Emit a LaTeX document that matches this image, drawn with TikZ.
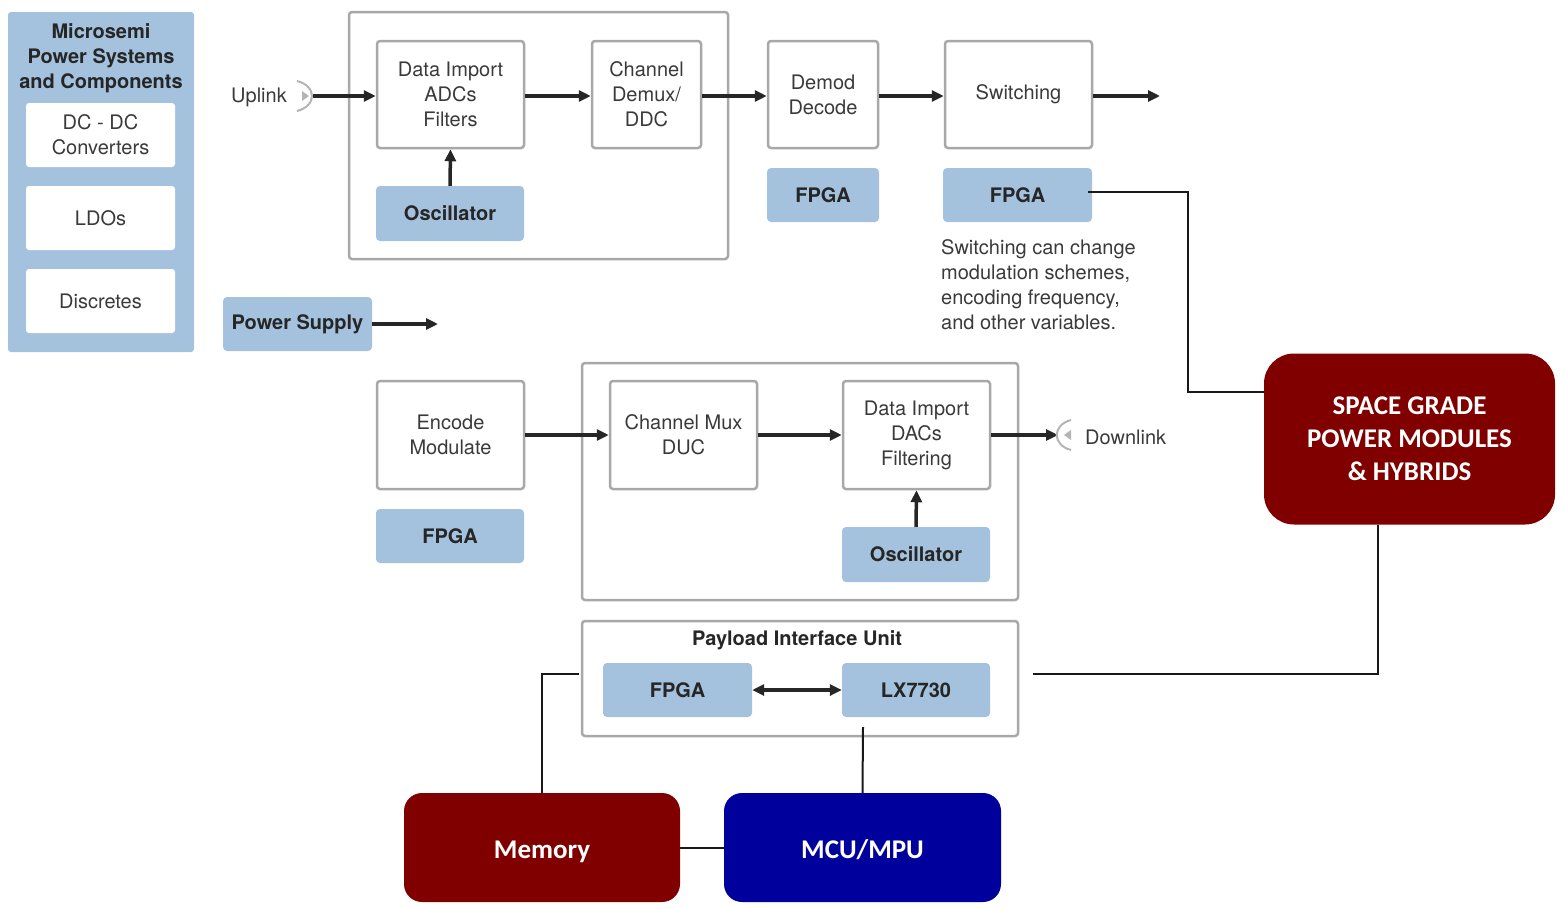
\documentclass[tikz,border=0pt]{standalone}
\usepackage{fontspec}
\setmainfont{TeX Gyre Heros}
\newfontfamily\calib{Carlito}
\usetikzlibrary{arrows.meta,calc}
\definecolor{lblue}{HTML}{A4C2DE}
\definecolor{gborder}{HTML}{A8A8A8}
\definecolor{txtgray}{HTML}{3A3A3A}
\definecolor{dred}{HTML}{800000}
\definecolor{dblue}{HTML}{00009C}
\definecolor{antgray}{HTML}{B4B4B4}
\tikzset{
  base/.style={inner sep=0pt, align=center, font=\fontsize{20}{25}\selectfont},
  wbox/.style={base, draw=gborder, line width=2.5pt, rounded corners=3pt, fill=white, text=txtgray},
  bbox/.style={base, fill=lblue, rounded corners=4pt, text=black!85, font=\fontsize{20}{25}\selectfont\bfseries},
  grp/.style={draw=gborder, line width=2.5pt, rounded corners=3pt, inner sep=0pt},
  bigbox/.style={inner sep=0pt, align=center, text=white, font=\fontsize{27}{33}\selectfont\calib\bfseries},
  tip/.tip={Triangle[length=12pt,width=11pt]},
  flow/.style={line width=3.5pt, draw=black!85, -tip},
  conn/.style={line width=2pt, draw=black!90},
  lbl/.style={inner sep=0pt, text=txtgray, font=\fontsize{20}{25}\selectfont}
}
\begin{document}
\begin{tikzpicture}[x=1pt,y=-1pt]
\useasboundingbox (0,0) rectangle (1563,908);
% left panel
\node[fill=lblue, rounded corners=3pt, minimum width=186pt, minimum height=340pt, inner sep=0pt] (panel) at (101,182) {};
\node[base, text=black!85, font=\fontsize{20}{25}\selectfont\bfseries] (ptitle) at (101,58) {Microsemi\\Power Systems\\and Components};
\node[wbox, draw=none, minimum width=149pt, minimum height=64pt] (dcdc) at (100.5,135) {DC - DC\\Converters};
\node[wbox, draw=none, minimum width=149pt, minimum height=64pt] (ldos) at (100.5,218) {LDOs};
\node[wbox, draw=none, minimum width=149pt, minimum height=64pt] (disc) at (100.5,301) {Discretes};
% top group
\node[grp, minimum width=379pt, minimum height=247pt] (topgrp) at (538.5,135.5) {};
\node[wbox, minimum width=147pt, minimum height=107pt] (dia) at (450.5,94.5) {Data Import\\ADCs\\Filters};
\node[wbox, minimum width=109pt, minimum height=107pt] (demux) at (646.5,94.5) {Channel\\Demux/\\DDC};
\node[bbox, minimum width=148pt, minimum height=55pt] (osc1) at (450,213.5) {Oscillator};
\node[wbox, minimum width=110pt, minimum height=107pt] (demod) at (823,94.5) {Demod\\Decode};
\node[bbox, minimum width=112pt, minimum height=54pt] (fpga1) at (823,195) {FPGA};
\node[wbox, minimum width=147pt, minimum height=107pt] (sw) at (1018.5,94.5) {Switching};
\node[bbox, minimum width=149pt, minimum height=54pt] (fpga2) at (1017.5,195) {FPGA};
\node[lbl, align=left, anchor=west] (note) at (941,285) {Switching can change\\modulation schemes,\\encoding frequency,\\and other variables.};
% uplink
\node[lbl, anchor=east] (uplink) at (287,97) {Uplink};
\draw[antgray, line width=2pt] (297,81) .. controls (317,86) and (317,106) .. (297,111);
\fill[antgray] (302,91) -- (309,96) -- (302,101) -- cycle;
\coordinate (upant) at (313,96);
\coordinate (swout) at (1160,96);
\draw[flow] (upant) -- (dia.west |- upant);
\draw[flow] (dia.east |- upant) -- (demux.west |- upant);
\draw[flow] (demux.east |- upant) -- (demod.west |- upant);
\draw[flow] (demod.east |- upant) -- (sw.west |- upant);
\draw[flow] (sw.east |- upant) -- (swout);
\draw[flow] (osc1.north) -- (dia.south);
% power supply
\node[bbox, minimum width=149pt, minimum height=54pt] (ps) at (297.5,324) {Power Supply};
\coordinate (psout) at (438,324);
\draw[flow] (ps.east) -- (psout);
% bottom group
\node[grp, minimum width=436pt, minimum height=237pt] (botgrp) at (800,481.5) {};
\node[wbox, minimum width=147pt, minimum height=108pt] (enc) at (450.5,435) {Encode\\Modulate};
\node[bbox, minimum width=148pt, minimum height=54pt] (fpga3) at (450,536) {FPGA};
\node[wbox, minimum width=147pt, minimum height=108pt] (mux) at (683.5,435) {Channel Mux\\DUC};
\node[wbox, minimum width=147pt, minimum height=108pt] (dac) at (916.5,435) {Data Import\\DACs\\Filtering};
\node[bbox, minimum width=148pt, minimum height=55pt] (osc2) at (916,554.5) {Oscillator};
\draw[flow] (enc.east) -- (mux.west);
\draw[flow] (mux.east) -- (dac.west);
\draw[flow] (osc2.north) -- (dac.south);
\coordinate (dnant) at (1058,435);
\draw[flow] (dac.east) -- (dnant);
\draw[antgray, line width=2pt] (1071,420) .. controls (1052,425) and (1052,445) .. (1071,450);
\fill[antgray] (1071,430) -- (1064,435) -- (1071,440) -- cycle;
\node[lbl, anchor=west] (downlink) at (1085,437) {Downlink};
% PIU
\node[grp, minimum width=436pt, minimum height=115pt] (piu) at (800,678.5) {};
\node[base, text=black!85, font=\fontsize{20}{25}\selectfont\bfseries] (piutitle) at (797,640) {Payload Interface Unit};
\node[bbox, minimum width=149pt, minimum height=54pt] (fpga4) at (677.5,690) {FPGA};
\node[bbox, minimum width=148pt, minimum height=54pt] (lx) at (916,690) {LX7730};
\draw[line width=3.5pt, draw=black!85, tip-tip] (fpga4.east) -- (lx.west);
% big boxes
\node[bigbox, fill=dred, rounded corners=30pt, minimum width=291pt, minimum height=171pt] (sg) at (1409.5,439) {SPACE GRADE\\POWER MODULES\\\& HYBRIDS};
\node[bigbox, fill=dred, rounded corners=18pt, minimum width=276pt, minimum height=109pt] (mem) at (542,847.5) {\rule{0pt}{26pt}Memory};
\node[bigbox, fill=dblue, rounded corners=18pt, minimum width=277pt, minimum height=109pt] (mcu) at (862.5,847.5) {\rule{0pt}{24pt}MCU/MPU};
% connectors
\coordinate (y392) at (0,392);
\coordinate (x1188) at (1188,0);
\draw[conn] ([xshift=-4pt,yshift=3pt]fpga2.east) -| (x1188 |- y392) -- (sg.west |- y392);
\coordinate (piuR) at (1033,674);
\coordinate (piuL) at (579,674);
\coordinate (lxb) at (863,727);
\draw[conn] (piuR) -| ([xshift=-31.5pt]sg.south);
\draw[conn] (piuL) -| (mem.north);
\draw[conn] (lxb) -- (mcu.north);
\draw[conn] (mem.east) -- (mcu.west);
\end{tikzpicture}
\end{document}
